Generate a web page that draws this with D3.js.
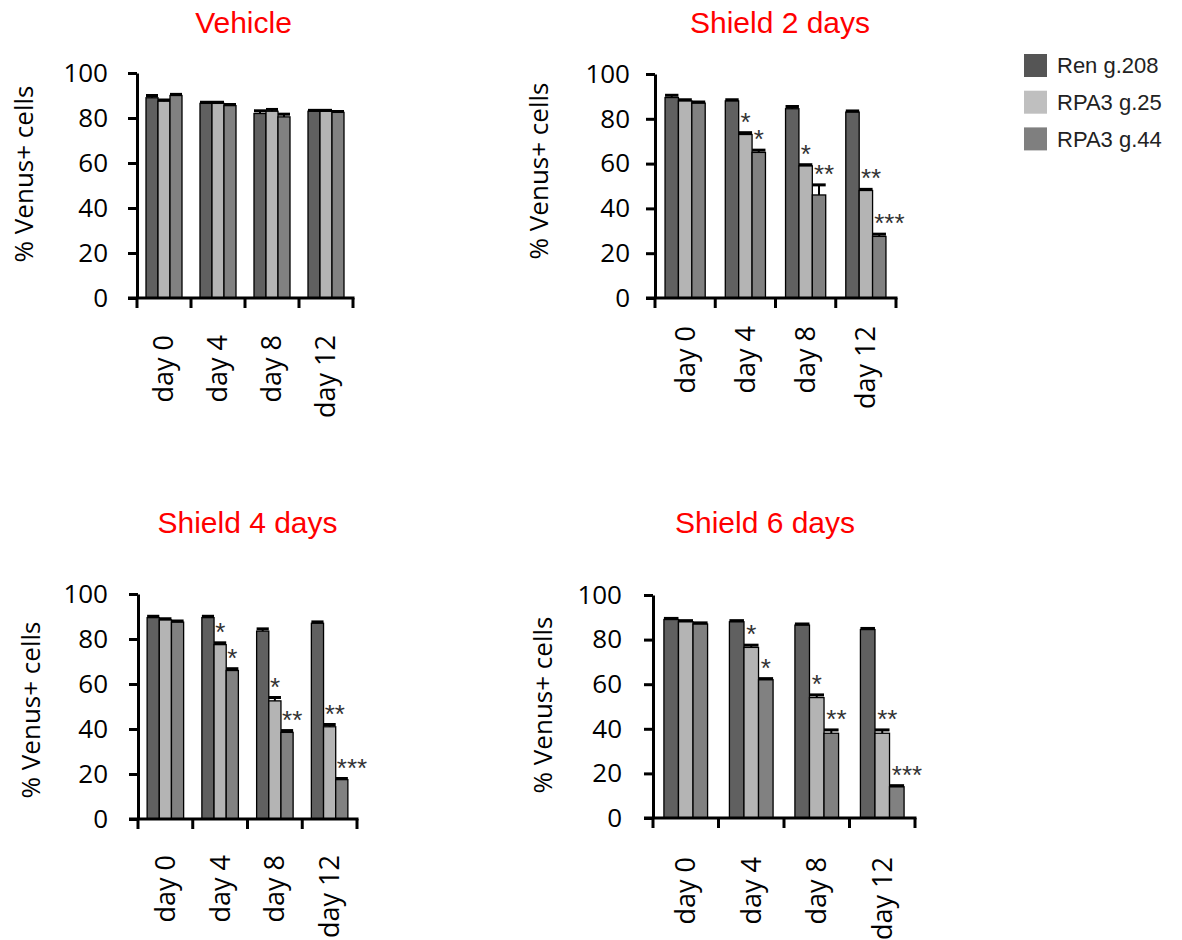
<!DOCTYPE html>
<html>
<head>
<meta charset="utf-8">
<script src="https://cdn.jsdelivr.net/npm/d3@7/dist/d3.min.js"></script>
<style>
  html, body { margin: 0; padding: 0; background: #fff; }
  svg { display: block; }
</style>
</head>
<body>
<svg id="chart" width="1182" height="940"></svg>
<script>
// ---------------- DATA ----------------
const categories = ["day 0", "day 4", "day 8", "day 12"];
const seriesNames = ["Ren g.208", "RPA3 g.25", "RPA3 g.44"];
const yTicks = [0, 20, 40, 60, 80, 100];
const panelTitles = ["Vehicle", "Shield 2 days", "Shield 4 days", "Shield 6 days"];
const yAxisLabel = "% Venus+ cells";

// values per category: [Ren g.208, RPA3 g.25, RPA3 g.44]
const vehicleValues = [[89, 87.5, 90], [86.5, 86.5, 85.5], [82, 83, 80.5], [83, 83, 82.5]];
const vehicleErrors = [[1, 0.5, 0.5], [0.5, 0.5, 0.5], [1.2, 0.8, 1.2], [0.4, 0.4, 0.4]];
const vehicleStars = [["", "", ""], ["", "", ""], ["", "", ""], ["", "", ""]];

const shield2Values = [[89.5, 88, 87], [88, 73, 65], [84.5, 59, 46], [83, 48, 27.5]];
const shield2Errors = [[1, 0.5, 0.5], [0.5, 0.8, 1], [1, 0.5, 4.5], [0.5, 0.5, 1]];
const shield2Stars = [["", "", ""], ["", "*", "*"], ["", "*", "**"], ["", "**", "***"]];

const shield4Values = [[89.5, 88.5, 87.5], [89.5, 77.5, 66], [83.5, 52.5, 38.5], [87, 41, 17.5]];
const shield4Errors = [[0.6, 0.5, 0.5], [0.6, 0.8, 0.8], [1, 1.5, 0.8], [0.6, 1, 0.5]];
const shield4Stars = [["", "", ""], ["", "*", "*"], ["", "*", "**"], ["", "**", "***"]];

const shield6Values = [[89, 88, 87], [88, 76.5, 62], [86.5, 54, 38], [84.5, 38, 14]];
const shield6Errors = [[0.5, 0.5, 0.5], [0.5, 1, 0.5], [0.5, 1.2, 1.5], [0.5, 1.5, 0.5]];
const shield6Stars = [["", "", ""], ["", "*", "*"], ["", "*", "**"], ["", "**", "***"]];

// ---------------- STYLE / LAYOUT ----------------
const barColors = ["#606060", "#b4b4b4", "#818181"];
const legendColors = ["#555555", "#bfbfbf", "#7f7f7f"];

const panels = [
  { title: panelTitles[0], values: vehicleValues, errors: vehicleErrors, stars: vehicleStars,
    left: 137, right: 353, y0: 298, y100: 73, tickPad: 20, labelOff: 37,
    ylabX: 33, ylabY: 174, titleX: 243.5, titleY: 33 },
  { title: panelTitles[1], values: shield2Values, errors: shield2Errors, stars: shield2Stars,
    left: 655, right: 896, y0: 298, y100: 74, tickPad: 16, labelOff: 28,
    ylabX: 548, ylabY: 171, titleX: 780, titleY: 33 },
  { title: panelTitles[2], values: shield4Values, errors: shield4Errors, stars: shield4Stars,
    left: 138, right: 357, y0: 819, y100: 594, tickPad: 21, labelOff: 36,
    ylabX: 40, ylabY: 710, titleX: 247.5, titleY: 533 },
  { title: panelTitles[3], values: shield6Values, errors: shield6Errors, stars: shield6Stars,
    left: 653, right: 915, y0: 818, y100: 595, tickPad: 22, labelOff: 39,
    ylabX: 552, ylabY: 705, titleX: 765, titleY: 533 }
];

const numFont = "'Open Sans', 'DejaVu Sans', sans-serif";
const sansFont = "'Liberation Sans', Arial, sans-serif";

const svg = d3.select("#chart");

panels.forEach(p => {
  const g = svg.append("g");
  const x = d3.scaleBand().domain(categories).range([p.left, p.right]).paddingInner(0).paddingOuter(0);
  const y = d3.scaleLinear().domain([0, 100]).range([p.y0, p.y100]);
  const bw = x.bandwidth();
  const groupW = bw * 2 / 3;
  const barW = groupW / seriesNames.length;
  const xs = d3.scaleBand().domain(seriesNames).range([0, groupW]).padding(0);

  // title
  g.append("text")
    .attr("x", p.titleX).attr("y", p.titleY)
    .attr("text-anchor", "middle")
    .attr("font-family", sansFont).attr("font-size", 30)
    .attr("fill", "#ff0000")
    .text(p.title);

  // bars
  categories.forEach((c, ci) => {
    seriesNames.forEach((s, si) => {
      const v = p.values[ci][si];
      const e = p.errors[ci][si];
      const bx = x(c) + bw / 6 + xs(s);
      g.append("rect")
        .attr("x", bx).attr("y", y(v))
        .attr("width", barW).attr("height", y(0) - y(v))
        .attr("fill", barColors[si])
        .attr("stroke", "#000").attr("stroke-width", 1.3);
      // error bar
      g.append("line")
        .attr("x1", bx + barW / 2).attr("x2", bx + barW / 2)
        .attr("y1", y(v)).attr("y2", y(v + e))
        .attr("stroke", "#000").attr("stroke-width", 2);
      g.append("line")
        .attr("x1", bx).attr("x2", bx + barW)
        .attr("y1", y(v + e)).attr("y2", y(v + e))
        .attr("stroke", "#000").attr("stroke-width", 3);
      const st = p.stars[ci][si];
      if (st) {
        g.append("text")
          .attr("x", bx + barW / 2 - 5)
          .attr("y", y(v + e) - 17 + 15)
          .attr("font-family", sansFont).attr("font-size", 26)
          .attr("fill", "#333")
          .text(st);
      }
    });
  });

  // y axis
  const yAxis = d3.axisLeft(y).tickValues(yTicks).tickSize(9).tickSizeOuter(0).tickPadding(p.tickPad);
  const ya = g.append("g").attr("transform", `translate(${p.left},0)`).call(yAxis);
  ya.select(".domain").attr("stroke", "#000").attr("stroke-width", 3);
  ya.selectAll(".tick line").attr("stroke", "#000").attr("stroke-width", 3);
  ya.selectAll(".tick text")
    .attr("font-family", numFont).attr("font-size", 26).attr("fill", "#000");

  // x axis (ticks at band boundaries)
  g.append("line")
    .attr("x1", p.left - 9).attr("x2", p.right + 1.5)
    .attr("y1", y(0)).attr("y2", y(0))
    .attr("stroke", "#000").attr("stroke-width", 3);
  const bounds = categories.map(c => x(c)).concat([x.range()[1]]);
  bounds.forEach(b => {
    g.append("line")
      .attr("x1", b).attr("x2", b)
      .attr("y1", y(0)).attr("y2", y(0) + 10)
      .attr("stroke", "#000").attr("stroke-width", 3);
  });
  categories.forEach(c => {
    const cx = x(c) + bw / 2;
    g.append("text")
      .attr("transform", `translate(${cx},${y(0) + p.labelOff}) rotate(-90)`)
      .attr("text-anchor", "end")
      .attr("dy", "0.35em")
      .attr("font-family", numFont).attr("font-size", 27)
      .attr("fill", "#000")
      .text(c);
  });

  // y axis label
  g.append("text")
    .attr("transform", `translate(${p.ylabX},${p.ylabY}) rotate(-90)`)
    .attr("text-anchor", "middle")
    .attr("font-family", numFont).attr("font-size", 26)
    .attr("fill", "#000")
    .text(yAxisLabel);
});

// legend
const legend = svg.append("g");
seriesNames.forEach((s, i) => {
  const cy = 65.5 + i * 36.7;
  legend.append("rect")
    .attr("x", 1024).attr("y", cy - 11.5)
    .attr("width", 23).attr("height", 23)
    .attr("fill", legendColors[i]);
  legend.append("text")
    .attr("x", 1057).attr("y", cy)
    .attr("dy", "0.36em")
    .attr("font-family", sansFont).attr("font-size", 22)
    .attr("fill", "#222")
    .text(s);
});
</script>
</body>
</html>
